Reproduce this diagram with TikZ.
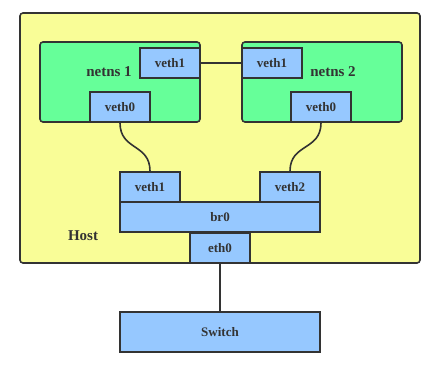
\documentclass[tikz,border=0pt]{standalone}
\usepackage{fontspec}
\setmainfont{Liberation Serif}
\definecolor{hostyellow}{HTML}{F9FD97}
\definecolor{nsgreen}{HTML}{66FF99}
\definecolor{ifblue}{HTML}{96C8FF}
\definecolor{edge}{HTML}{333333}
\begin{document}
\begin{tikzpicture}[x=1pt, y=-1pt,
        box/.style={draw=edge, line width=1.6pt, inner sep=0pt, text=edge,
            font=\fontsize{13}{15}\selectfont\bfseries},
        iface/.style={box, fill=ifblue, minimum width=60pt, minimum height=30pt},
        label/.style={text=edge, inner sep=0pt, font=\fontsize{15}{18}\selectfont\bfseries},
        wire/.style={draw=edge, line width=1.6pt}]
            \useasboundingbox (0,0) rectangle (437,367);
            \node[box, fill=hostyellow, rounded corners=3pt, minimum width=400pt, minimum height=250pt] (host) at (220,138) {};
            \node[label] (hostlabel) at (83,236) {Host};
            \node[box, fill=nsgreen, rounded corners=3pt, minimum width=160pt, minimum height=80pt] (ns1) at (120,82) {};
            \node[box, fill=nsgreen, rounded corners=3pt, minimum width=160pt, minimum height=80pt] (ns2) at (322,82) {};
            \node[label] (ns1label) at (109,72) {netns 1};
            \node[label] (ns2label) at (333,72) {netns 2};
            \node[iface] (ns1veth1) at (170,63) {veth1};
            \node[iface] (ns1veth0) at (120,107) {veth0};
            \node[iface] (ns2veth1) at (272,63) {veth1};
            \node[iface] (ns2veth0) at (321,107) {veth0};
            \node[iface] (brveth1) at (150,187) {veth1};
            \node[iface] (brveth2) at (290,187) {veth2};
            \node[iface, minimum width=200pt] (br0) at (220,217) {br0};
            \node[iface] (eth0) at (220,248) {eth0};
            \node[iface, minimum width=200pt, minimum height=40pt] (switch) at (220,332) {Switch};
            \draw[wire] (ns1veth1.east) -- (ns2veth1.west);
            \draw[wire] (ns1veth0.south) .. controls +(0,28) and +(0,-28) .. (brveth1.north);
            \draw[wire] (ns2veth0.south) .. controls +(0,28) and +(0,-28) .. (brveth2.north);
            \draw[wire] (eth0.south) -- (switch.north);
        \end{tikzpicture}
\end{document}
